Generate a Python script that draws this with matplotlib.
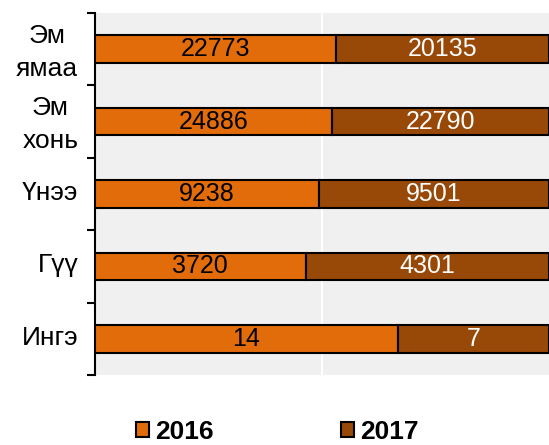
import numpy as np
import matplotlib.pyplot as plt

plt.rcParams['font.family'] = ['Liberation Sans', 'DejaVu Sans']

categories = ["Эм\nямаа", "Эм\nхонь", "Үнээ", "Гүү", "Ингэ"]
v2016 = [22773, 24886, 9238, 3720, 14]
v2017 = [20135, 22790, 9501, 4301, 7]

c2016 = "#E36C0A"
c2017 = "#984807"

a = np.array(v2016, dtype=float)
b = np.array(v2017, dtype=float)
tot = a + b
p1 = a / tot
p2 = b / tot

y = np.arange(len(categories))[::-1]

fig = plt.figure(figsize=(5.49, 4.45), dpi=100)
ax = fig.add_axes([0.173, 0.157, 0.827, 0.814])
ax.set_facecolor("#F0F0F0")

h = 0.38
bars1 = ax.barh(y, p1, height=h, color=c2016, edgecolor="black", linewidth=1.5, label="2016", zorder=3)
bars2 = ax.barh(y, p2, left=p1, height=h, color=c2017, edgecolor="black", linewidth=1.5, label="2017", zorder=3)

for i in range(len(categories)):
    ax.text(p1[i] / 2, y[i], str(v2016[i]), ha="center", va="center", fontsize=18, color="black", zorder=4)
    ax.text(p1[i] + p2[i] / 2, y[i], str(v2017[i]), ha="center", va="center", fontsize=18, color="white", zorder=4)

ax.set_xlim(0, 1)
ax.set_ylim(-0.5, len(categories) - 0.5)
ax.axvline(0.5, color="white", linewidth=1.5, zorder=1)

ax.set_xticks([])
ax.set_yticks(np.arange(-0.5, len(categories), 1.0))
ax.set_yticklabels([])
ax.set_yticks(y + 0.05, minor=True)
ax.set_yticklabels(categories, minor=True, fontsize=19, multialignment="center", linespacing=1.45)
ax.tick_params(axis="y", which="major", length=6, width=1.5, direction="out")
ax.tick_params(axis="y", which="minor", length=0, pad=12)

for s in ["top", "right", "bottom"]:
    ax.spines[s].set_visible(False)
ax.spines["left"].set_linewidth(1.5)

leg = fig.legend(handles=[bars1, bars2], loc="center", bbox_to_anchor=(0.505, 0.03), ncol=2,
                 frameon=False, prop={"weight": "bold", "size": 19}, handlelength=0.5, handleheight=0.5,
                 handletextpad=0.25, columnspacing=4.8, borderpad=0)

plt.savefig("out.png", dpi=100)
